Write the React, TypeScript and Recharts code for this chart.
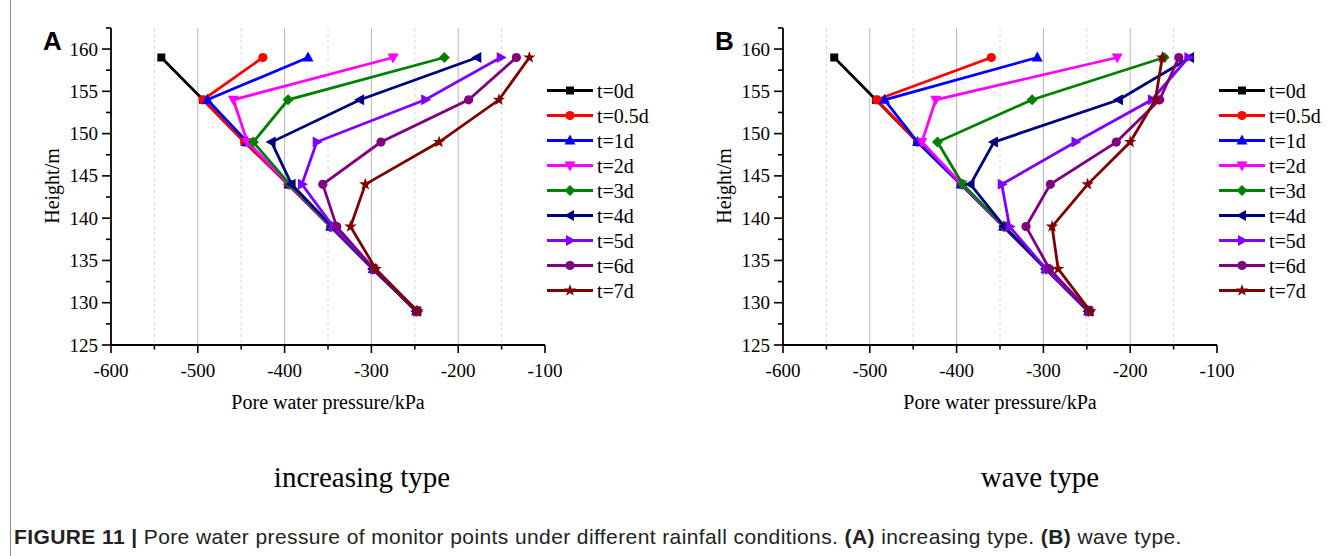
import React from 'react';
import { ScatterChart, Scatter, XAxis, YAxis, CartesianGrid, Legend } from 'recharts';

// heights of the monitor points (m), top to bottom
const heights = [159, 154, 149, 144, 139, 134, 129];

const seriesNames = ['t=0d', 't=0.5d', 't=1d', 't=2d', 't=3d', 't=4d', 't=5d', 't=6d', 't=7d'];
const seriesColors = ['#000000', '#ff0000', '#0000ff', '#ff00ff', '#008000', '#000080', '#8000ff', '#800080', '#800000'];
const seriesMarkers = ['square', 'circle', 'up', 'down', 'diamond', 'left', 'right', 'circle', 'star'];

// pore water pressure (kPa) at each height, increasing type
const incT0 = [-542, -494, -446, -396, -347, -298, -248];
const incT05 = [-425, -494, -446, -396, -347, -298, -248];
const incT1 = [-373, -489, -443, -395, -347, -298, -248];
const incT2 = [-275, -459, -443, -395, -347, -298, -248];
const incT3 = [-216, -396, -436, -394, -346, -298, -248];
const incT4 = [-178, -313, -415, -392, -345, -298, -248];
const incT5 = [-151, -238, -363, -380, -344, -297, -247];
const incT6 = [-133, -188, -289, -356, -340, -297, -247];
const incT7 = [-118, -153, -222, -307, -324, -295, -247];

// wave type
const wavT0 = [-541, -493, -445, -395, -346, -297, -248];
const wavT05 = [-360, -492, -445, -395, -346, -297, -248];
const wavT1 = [-307, -483, -445, -395, -346, -297, -248];
const wavT2 = [-215, -424, -440, -394, -346, -297, -248];
const wavT3 = [-161, -313, -422, -393, -345, -297, -248];
const wavT4 = [-131, -213, -357, -384, -345, -297, -248];
const wavT5 = [-133, -175, -263, -348, -339, -297, -247];
const wavT6 = [-144, -166, -216, -292, -320, -293, -247];
const wavT7 = [-163, -171, -200, -249, -290, -283, -246];

const xTicks = [-600, -550, -500, -450, -400, -350, -300, -250, -200, -150, -100];
const xMajorGrid = [-500, -400, -300, -200];
const xMinorGrid = [-550, -450, -350, -250, -150];
const yTicks = [125, 127.5, 130, 132.5, 135, 137.5, 140, 142.5, 145, 147.5, 150, 152.5, 155, 157.5, 160, 162.5];

const serif = '"Liberation Serif", "Times New Roman", serif';
const sans = '"Liberation Sans", Arial, sans-serif';

const toPoints = (vals: number[]) => vals.map((p, i) => ({ p, h: heights[i] }));

const Marker = ({ kind, cx, cy, color }: { kind: string; cx: number; cy: number; color: string }) => {
  switch (kind) {
    case 'square':
      return <rect x={cx - 4} y={cy - 4} width={8} height={8} fill={color} />;
    case 'circle':
      return <circle cx={cx} cy={cy} r={4.6} fill={color} />;
    case 'up':
      return <polygon points={`${cx},${cy - 6} ${cx + 5.5},${cy + 4} ${cx - 5.5},${cy + 4}`} fill={color} />;
    case 'down':
      return <polygon points={`${cx},${cy + 6} ${cx + 5.5},${cy - 4} ${cx - 5.5},${cy - 4}`} fill={color} />;
    case 'diamond':
      return <polygon points={`${cx},${cy - 5.5} ${cx + 5.5},${cy} ${cx},${cy + 5.5} ${cx - 5.5},${cy}`} fill={color} />;
    case 'left':
      return <polygon points={`${cx - 6},${cy} ${cx + 4},${cy - 5.5} ${cx + 4},${cy + 5.5}`} fill={color} />;
    case 'right':
      return <polygon points={`${cx + 6},${cy} ${cx - 4},${cy - 5.5} ${cx - 4},${cy + 5.5}`} fill={color} />;
    default: {
      const pts: string[] = [];
      for (let k = 0; k < 10; k++) {
        const r = k % 2 === 0 ? 6.5 : 2.6;
        const a = -Math.PI / 2 + (k * Math.PI) / 5;
        pts.push(`${cx + r * Math.cos(a)},${cy + r * Math.sin(a)}`);
      }
      return <polygon points={pts.join(' ')} fill={color} />;
    }
  }
};

const XTick = (props: any) => {
  const { x, y, payload } = props;
  const major = payload.value % 100 === 0;
  return (
    <g>
      <line x1={x} x2={x} y1={y} y2={y + (major ? 8 : 4.5)} stroke="#000" strokeWidth={1.6} />
      {major && (
        <text x={x} y={y + 25} textAnchor="middle" dominantBaseline="central" fontFamily={serif} fontSize={19} fill="#000">
          {payload.value}
        </text>
      )}
    </g>
  );
};

const YTick = (props: any) => {
  const { x, y, payload } = props;
  const major = payload.value % 5 === 0;
  return (
    <g>
      <line x1={x - (major ? 9 : 5)} x2={x} y1={y} y2={y} stroke="#000" strokeWidth={1.6} />
      {major && (
        <text x={x - 13} y={y} textAnchor="end" dominantBaseline="central" fontFamily={serif} fontSize={19} fill="#000">
          {payload.value}
        </text>
      )}
    </g>
  );
};

const LegendBox = () => (
  <svg width={130} height={230}>
    {seriesNames.map((name, i) => {
      const cy = 12.5 + i * 25;
      return (
        <g key={name}>
          <line x1={7} x2={53} y1={cy} y2={cy} stroke={seriesColors[i]} strokeWidth={2.8} />
          <Marker kind={seriesMarkers[i]} cx={30} cy={cy} color={seriesColors[i]} />
          <text x={57} y={cy} dominantBaseline="central" fontFamily={serif} fontSize={20} fill="#000">
            {name}
          </text>
        </g>
      );
    })}
  </svg>
);

const Panel = ({ series, left, letter, subtitle }: { series: number[][]; left: number; letter: string; subtitle: string }) => (
  <div style={{ position: 'absolute', left, top: 0, width: 670, height: 556 }}>
    <ScatterChart width={670} height={440} margin={{ top: 27.9, right: 125, bottom: 45, left: 0 }}>
      <CartesianGrid horizontal={false} verticalValues={xMinorGrid} stroke="#d6d6d6" strokeDasharray="3 3" />
      <CartesianGrid horizontal={false} verticalValues={xMajorGrid} stroke="#b8b8b8" />
      <XAxis
        type="number"
        dataKey="p"
        domain={[-600, -100]}
        ticks={xTicks}
        interval={0}
        height={50}
        tickSize={0}
        tickMargin={0}
        tickLine={false}
        tick={<XTick />}
        axisLine={{ stroke: '#000', strokeWidth: 1.8 }}
        allowDataOverflow
      />
      <YAxis
        type="number"
        dataKey="h"
        domain={[125, 162.5]}
        ticks={yTicks}
        interval={0}
        width={111}
        tickSize={0}
        tickMargin={0}
        tickLine={false}
        tick={<YTick />}
        axisLine={{ stroke: '#000', strokeWidth: 1.8 }}
        allowDataOverflow
      />
      {series.map((vals, i) => (
        <Scatter
          key={seriesNames[i]}
          name={seriesNames[i]}
          data={toPoints(vals)}
          fill={seriesColors[i]}
          line={{ stroke: seriesColors[i], strokeWidth: 2.8 }}
          shape={(p: any) => <Marker kind={seriesMarkers[i]} cx={p.cx} cy={p.cy} color={seriesColors[i]} />}
          isAnimationActive={false}
        />
      ))}
      <Legend
        layout="horizontal"
        verticalAlign="middle"
        align="center"
        content={<LegendBox />}
        wrapperStyle={{ left: 540, top: 77.5, width: 130, height: 230 }}
      />
    </ScatterChart>
    <div style={{ position: 'absolute', left: 43, top: 26, fontFamily: sans, fontWeight: 'bold', fontSize: 26, lineHeight: '30px' }}>{letter}</div>
    <div
      style={{
        position: 'absolute', left: 52, top: 186, transform: 'translate(-50%, -50%) rotate(-90deg)',
        fontFamily: serif, fontSize: 20, whiteSpace: 'nowrap',
      }}
    >
      Height/m
    </div>
    <div style={{ position: 'absolute', left: 328, top: 402, transform: 'translate(-50%, -50%)', fontFamily: serif, fontSize: 20, whiteSpace: 'nowrap' }}>
      Pore water pressure/kPa
    </div>
    <div style={{ position: 'absolute', left: subtitle === 'wave type' ? 368 : 362, top: 477, transform: 'translate(-50%, -50%)', fontFamily: serif, fontSize: 29, whiteSpace: 'nowrap' }}>
      {subtitle}
    </div>
  </div>
);

export default function App() {
  const inc = [incT0, incT05, incT1, incT2, incT3, incT4, incT5, incT6, incT7];
  const wav = [wavT0, wavT05, wavT1, wavT2, wavT3, wavT4, wavT5, wavT6, wavT7];
  return (
    <div style={{ position: 'absolute', left: 0, top: 0, width: 1342, height: 556, background: '#fff', overflow: 'hidden' }}>
      <div style={{ position: 'absolute', left: 10, top: 0, width: 1, height: 556, background: '#8a8a8a' }} />
      <Panel series={inc} left={0} letter="A" subtitle="increasing type" />
      <Panel series={wav} left={672} letter="B" subtitle="wave type" />
      <div style={{ position: 'absolute', left: 14, top: 537, transform: 'translateY(-50%)', fontFamily: sans, fontSize: 21, letterSpacing: 0.4, whiteSpace: 'nowrap', color: '#222' }}>
        <b>FIGURE 11 |</b> Pore water pressure of monitor points under different rainfall conditions. <b>(A)</b> increasing type. <b>(B)</b> wave type.
      </div>
    </div>
  );
}
